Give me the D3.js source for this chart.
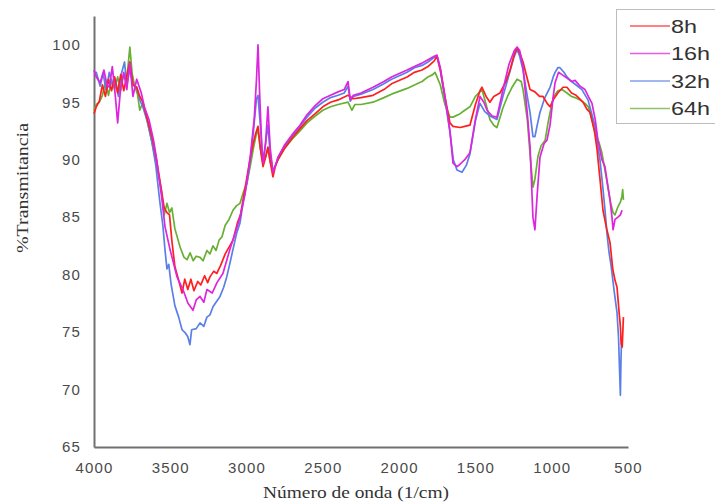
<!DOCTYPE html>
<html>
<head>
<meta charset="utf-8">
<script src="https://cdn.jsdelivr.net/npm/d3@7"></script>
<style>
  body { margin: 0; background: #fff; }
  svg { display: block; }
  .tick text { font-family: "Liberation Sans", Arial, sans-serif; font-size: 15px; fill: #4a4a4a; letter-spacing: 1.2px; }
  .title { font-family: "Liberation Serif", "Times New Roman", serif; font-size: 16px; fill: #333; }
  .legend text { font-family: "Liberation Sans", Arial, sans-serif; font-size: 18px; fill: #333; }
</style>
</head>
<body>
<div id="chart"></div>
<script>
"use strict";

// ticks
const xTicks = [4000, 3500, 3000, 2500, 2000, 1500, 1000, 500];
const yTicks = [65, 70, 75, 80, 85, 90, 95, 100];
const seriesNames = ["8h", "16h", "32h", "64h"];
const seriesColors = ["#ff1f1f", "#dd25dd", "#5b7fe6", "#68b034"];

// [wavenumber (1/cm), %T]
const s8h = [[4000,94.0],[3985,94.6],[3965,95.1],[3945,96.5],[3925,95.5],[3905,97],[3885,96],[3865,97.2],[3845,95.8],[3825,97.4],[3805,96],[3785,97.3],[3765,98.5],[3745,96.5],[3720,96.3],[3700,95.5],[3680,95],[3650,93.5],[3620,92],[3590,90],[3560,87.5],[3540,85.8],[3522,85.4],[3505,85.2],[3490,83],[3470,80.7],[3445,79.5],[3423,78.4],[3405,79.6],[3385,78.7],[3365,79.6],[3345,78.6],[3320,79.4],[3300,79.1],[3275,79.9],[3255,79.3],[3240,79.8],[3215,80.3],[3195,80.1],[3170,80.8],[3140,81.8],[3110,82.5],[3089,83],[3060,84.5],[3040,85.2],[3010,87.5],[2978,90],[2955,91.5],[2940,92.3],[2925,92.9],[2910,91],[2892,89.4],[2875,90.2],[2860,91.1],[2845,89.8],[2827,88.5],[2810,89.5],[2794,90],[2750,91],[2700,91.9],[2650,92.7],[2604,93.4],[2550,94],[2500,94.6],[2450,95],[2400,95.2],[2335,95.6],[2300,95.3],[2250,95.4],[2171,95.6],[2100,96.1],[2050,96.6],[1948,97.2],[1900,97.6],[1850,97.8],[1811,98.1],[1770,98.6],[1752,99.0],[1730,97.8],[1700,95.5],[1667,93.2],[1647,92.9],[1600,92.8],[1570,92.9],[1536,93.0],[1500,94.8],[1470,96],[1457,96.3],[1430,95.5],[1405,95],[1380,95.5],[1339,95.8],[1300,96.8],[1273,97.8],[1245,99.2],[1227,99.7],[1210,99.3],[1188,98.5],[1165,97.3],[1142,96.1],[1110,95.9],[1080,95.5],[1057,95.5],[1030,94.9],[1011,94.6],[990,95.2],[960,95.8],[926,96.3],[900,96.3],[870,95.8],[840,95.6],[795,95],[770,94.4],[749,94.1],[720,92.5],[703,90.9],[685,88.5],[664,85.6],[640,84],[618,82.8],[600,80.5],[585,79.5],[572,78.9],[560,77],[550,75.5],[545,74],[538,73.7],[530,76.3]];

const s16h = [[4000,97.8],[3985,97.2],[3960,96.7],[3935,97.8],[3915,96.5],[3900,96.3],[3880,98.1],[3860,95.5],[3845,93.2],[3825,96.3],[3805,97.6],[3785,96.1],[3765,98.4],[3745,95.5],[3720,97],[3690,95.8],[3670,94.6],[3640,93.5],[3610,91.7],[3595,90.5],[3554,86.5],[3535,84.2],[3502,82.2],[3456,79.8],[3417,78.7],[3384,77.5],[3351,76.9],[3330,77.8],[3305,78.1],[3280,77.6],[3260,78.7],[3225,78.4],[3194,79.3],[3155,80.1],[3109,82.2],[3075,83.6],[3043,85],[3010,87],[2978,90],[2950,93.5],[2935,97],[2925,100],[2915,96],[2900,91],[2890,89.7],[2875,91.5],[2860,94.6],[2845,91],[2827,88.9],[2810,89.5],[2794,90.2],[2750,91.3],[2700,92.2],[2650,93],[2604,93.9],[2550,94.7],[2500,95.3],[2450,95.6],[2400,95.9],[2360,96.1],[2335,96.8],[2320,95.2],[2300,95.6],[2250,95.8],[2171,96.3],[2100,96.8],[2050,97.2],[1948,97.8],[1900,98.1],[1850,98.4],[1811,98.7],[1770,99.0],[1752,99.1],[1730,98],[1700,95.5],[1667,92.5],[1647,89.7],[1620,89.4],[1601,89.6],[1570,90],[1536,90.6],[1500,93.5],[1470,95.5],[1445,95],[1424,94.3],[1390,93.8],[1359,93.7],[1319,96.1],[1280,98.3],[1245,99.5],[1227,99.8],[1210,99.5],[1188,98.1],[1160,94],[1142,91.1],[1123,85],[1110,83.9],[1095,87],[1077,90.2],[1050,91.4],[1031,91.7],[1011,93],[990,95.5],[978,96.7],[955,97.6],[933,97.4],[900,97.1],[870,96.8],[847,96.9],[815,96.4],[782,96.1],[760,95.5],[736,94.9],[715,93.5],[697,91.7],[671,90],[651,89.4],[630,87.5],[618,86.5],[605,85],[598,83.9],[585,84.8],[566,85],[550,85.2],[539,85.6]];

const s32h = [[4000,97.5],[3985,97.6],[3960,96.4],[3940,97.5],[3920,96],[3900,97.6],[3880,96.5],[3860,97],[3840,95.5],[3820,97.5],[3800,98.5],[3785,96.5],[3765,97.9],[3745,96.5],[3720,96.3],[3700,95.2],[3680,94.6],[3650,93.3],[3620,91.5],[3595,89.5],[3570,86.5],[3548,84.2],[3535,82.2],[3522,80.5],[3510,80.9],[3495,79.2],[3470,77.3],[3445,76.3],[3423,75.2],[3400,74.9],[3385,74.6],[3371,73.9],[3360,75.2],[3330,75.3],[3305,75.8],[3280,75.5],[3260,76.3],[3240,76.5],[3220,77.2],[3200,77.6],[3174,78.1],[3150,78.9],[3130,79.8],[3109,81],[3089,82.2],[3065,83.6],[3043,84.5],[3020,86.5],[2997,88],[2975,90],[2955,92.5],[2935,95.3],[2925,95.6],[2910,93],[2892,89.8],[2875,91.5],[2860,93],[2845,90.5],[2827,89],[2810,89.5],[2794,90.2],[2750,91.2],[2700,92.1],[2650,92.9],[2604,93.7],[2550,94.5],[2500,95.0],[2450,95.4],[2400,95.6],[2360,95.8],[2335,96.4],[2320,95.1],[2300,95.5],[2250,95.7],[2171,96.1],[2100,96.6],[2050,97],[1948,97.6],[1900,98],[1850,98.2],[1811,98.5],[1770,98.9],[1752,99],[1730,97.8],[1700,95.3],[1667,92.4],[1645,90],[1621,89.1],[1588,88.9],[1560,89.5],[1536,90.5],[1500,93.4],[1470,94.9],[1440,94.2],[1405,93.8],[1359,93.5],[1320,95.5],[1290,96.9],[1250,98.8],[1227,99.6],[1210,99],[1188,97.8],[1160,95.5],[1142,94.1],[1123,92],[1110,92],[1095,93],[1077,94.1],[1045,95.4],[1011,96.3],[990,97.2],[978,97.6],[960,98],[946,98],[920,97.6],[900,97.2],[870,96.8],[840,96.5],[802,96.1],[780,95.6],[762,95.2],[740,94.1],[716,92.9],[700,91.3],[684,90],[665,87.6],[650,85.5],[638,83.6],[625,82],[610,80.7],[590,78.5],[572,76.7],[562,74.5],[556,72],[550,69.5],[546,72.5],[543,74]];

const s64h = [[4000,94.3],[3985,94.8],[3965,95],[3945,95.6],[3925,96.8],[3905,95.6],[3885,97],[3865,96.1],[3845,97.2],[3825,96],[3805,97.4],[3785,97],[3765,99.8],[3750,97.5],[3735,96.5],[3715,95.7],[3700,94.3],[3680,95],[3650,93.3],[3620,91.5],[3590,89.5],[3560,87.5],[3540,85.2],[3522,86.2],[3505,85.4],[3490,85.8],[3470,84],[3436,82.4],[3410,81.5],[3390,81.3],[3370,81.9],[3350,81.2],[3330,81.6],[3305,81.5],[3285,81.2],[3260,82.1],[3240,81.8],[3220,82.5],[3200,82.1],[3180,83],[3161,83.3],[3140,84.3],[3115,84.8],[3089,85.6],[3065,86],[3043,86.2],[3020,87.2],[2997,88],[2975,89.5],[2955,91],[2935,92.3],[2925,92.5],[2910,91],[2892,89.6],[2875,90.3],[2860,91],[2845,89.8],[2827,89],[2810,89.5],[2794,90],[2750,91],[2700,91.8],[2650,92.5],[2604,93.2],[2550,93.8],[2500,94.3],[2450,94.6],[2400,94.8],[2335,95.0],[2310,94.3],[2290,94.8],[2250,94.8],[2171,95],[2100,95.4],[2050,95.7],[1948,96.2],[1900,96.5],[1850,96.8],[1811,97.2],[1780,97.4],[1765,97.6],[1752,97.2],[1730,96.5],[1700,94.8],[1667,93.7],[1647,93.7],[1600,94],[1570,94.3],[1536,94.6],[1500,95.5],[1457,96.1],[1430,94.8],[1405,93.5],[1380,93],[1359,92.8],[1320,94.5],[1290,95.5],[1260,96.3],[1227,97],[1200,96.8],[1188,96.1],[1160,93.5],[1142,90.5],[1123,87.6],[1110,88.3],[1090,90.3],[1070,91.2],[1043,91.7],[1020,93.5],[990,95.4],[960,96],[933,96.1],[900,95.8],[870,95.5],[847,95.4],[815,95.2],[782,94.9],[760,94.6],[736,93.5],[716,92.3],[690,91.5],[671,90.6],[650,89],[631,87.6],[615,86.3],[598,85.4],[585,85.2],[566,85.9],[550,86.3],[540,86.8],[535,87.4],[530,86.5]];

const seriesData = [s8h, s16h, s32h, s64h];
const drawOrder = [3, 2, 0, 1];

const width = 715, height = 504;
const svg = d3.select("#chart").append("svg")
    .attr("width", width)
    .attr("height", height);

const x = d3.scaleLinear().domain([4000, 500]).range([94, 628]);
const y = d3.scaleLinear().domain([65, 102.5]).range([447, 16]);

// axes
const xAxis = svg.append("g")
    .attr("transform", "translate(0,447)")
    .call(d3.axisBottom(x).tickValues(xTicks).tickSize(0).tickPadding(15).tickFormat(d3.format("d")));
const yAxis = svg.append("g")
    .attr("transform", "translate(94,0)")
    .call(d3.axisLeft(y).tickValues(yTicks).tickSize(0).tickPadding(13).tickFormat(d3.format("d")));
[xAxis, yAxis].forEach(g => {
    g.select(".domain").attr("stroke", "#707070").attr("stroke-width", 2);
    g.selectAll("text").attr("font-family", null).attr("font-size", null);
});

// lines
const line = d3.line()
    .x(d => x(d[0]))
    .y(d => y(d[1]));
drawOrder.forEach(i => {
    svg.append("path")
        .datum(seriesData[i])
        .attr("fill", "none")
        .attr("stroke", seriesColors[i])
        .attr("stroke-width", 1.7)
        .attr("stroke-linejoin", "round")
        .attr("d", line);
});

// axis titles
svg.append("text")
    .attr("class", "title")
    .attr("x", 356)
    .attr("y", 498)
    .attr("text-anchor", "middle")
    .attr("textLength", 186)
    .attr("lengthAdjust", "spacingAndGlyphs")
    .text("Número de onda (1/cm)");
svg.append("text")
    .attr("class", "title")
    .attr("transform", "translate(28,188) rotate(-90)")
    .attr("text-anchor", "middle")
    .attr("textLength", 130)
    .attr("lengthAdjust", "spacingAndGlyphs")
    .text("%Transmitancia");

// legend
const legend = svg.append("g").attr("class", "legend");
legend.append("rect")
    .attr("x", 616.5).attr("y", 9.5)
    .attr("width", 120).attr("height", 114)
    .attr("fill", "#fff")
    .attr("stroke", "#bdbdbd");
seriesNames.forEach((name, i) => {
    const ly = 26 + i * 27.5;
    legend.append("line")
        .attr("x1", 630).attr("x2", 670)
        .attr("y1", ly).attr("y2", ly)
        .attr("stroke", seriesColors[i])
        .attr("stroke-opacity", 0.75)
        .attr("stroke-width", 1.5);
    legend.append("text")
        .attr("x", 671)
        .attr("y", ly + 6.5)
        .attr("textLength", name.length === 2 ? 26 : 39)
        .attr("lengthAdjust", "spacingAndGlyphs")
        .text(name);
});
</script>
</body>
</html>
